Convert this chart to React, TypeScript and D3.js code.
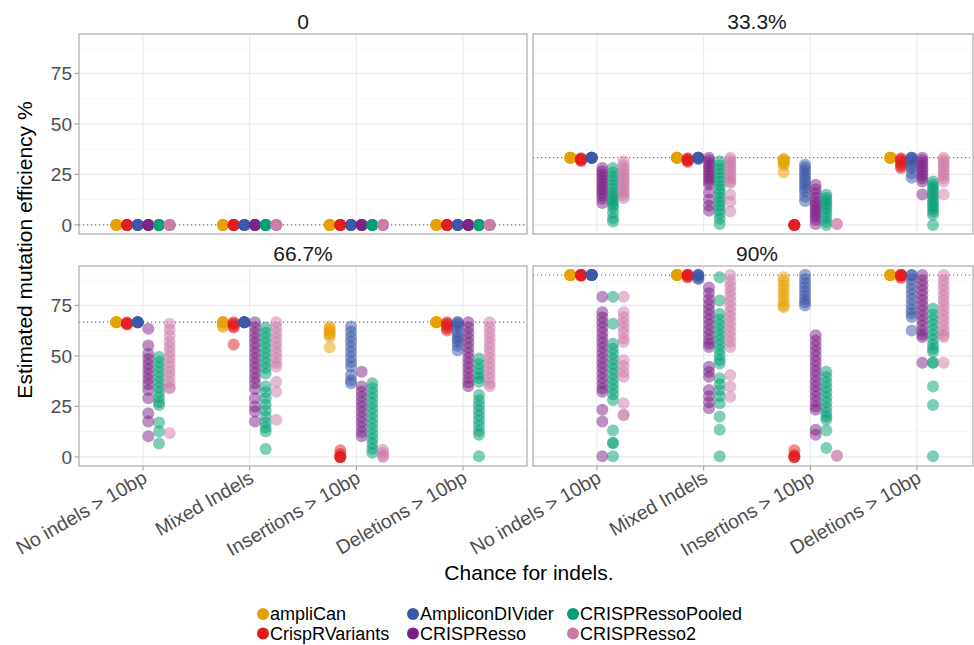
import React from "react";
import * as d3 from "d3";

// Facets (chance of a mutation), x categories and tools
const facets = ["0", "33.3%", "66.7%", "90%"];
const facetTrue = [0, 33.3, 66.7, 90];
const categories = ["No indels > 10bp", "Mixed Indels", "Insertions > 10bp", "Deletions > 10bp"];
const tools = ["ampliCan", "CrispRVariants", "AmpliconDIVider", "CRISPResso", "CRISPRessoPooled", "CRISPResso2"];
const toolColors = ["#E69F00", "#E31A1C", "#3A56A8", "#7B1F86", "#009E73", "#CC79A7"];
const yTicks = [0, 25, 50, 75];
const yMinor = [12.5, 37.5, 62.5, 87.5];

const zeros = [0, 0, 0, 0, 0, 0];

// Estimated mutation efficiency per tool: [facet][category] -> replicate values
const ampliCan: number[][][] = [
  [zeros, zeros, zeros, zeros],
  [
    [33.3, 33.3, 33.3, 33.3, 33.3, 33.3],
    [33.3, 33.3, 33.3, 33.3, 33.3, 33.3],
    [32.8, 32.3, 31.8, 31.2, 30.5, 29.5, 26.0],
    [33.3, 33.3, 33.3, 33.3, 33.3, 33.3],
  ],
  [
    [66.7, 66.7, 66.7, 66.7, 66.7, 66.7],
    [66.7, 66.7, 66.7, 66.7, 65, 64.3],
    [64.6, 63.5, 62.5, 61.5, 60.5, 59.3, 54.1],
    [66.7, 66.7, 66.7, 66.7, 66.7, 66.7],
  ],
  [
    [90, 90, 90, 90, 90, 90],
    [90, 90, 90, 90, 90, 90],
    [88.9, 87, 85, 83, 81, 79, 77, 75, 74.1],
    [90, 90, 90, 90, 90, 90],
  ],
];

const crispRVariants: number[][][] = [
  [zeros, zeros, zeros, zeros],
  [
    [33.0, 32.6, 32.3, 32.0, 31.6, 32.8],
    [33.0, 32.6, 32.3, 31.8, 31.2, 32.0],
    [0, 0, 0, 0, 0],
    [33.0, 32.4, 31.8, 31.0, 30.0, 29.0, 28.2],
  ],
  [
    [66.7, 66.0, 65.8, 65.5, 66.2],
    [66.7, 66.2, 65.5, 64.5, 64.0, 55.7],
    [3.3, 1.5, 0, 0, 0, 0],
    [66.7, 66.0, 65.5, 64.5, 63.5, 62.6],
  ],
  [
    [90, 90, 90, 90, 90, 89.6],
    [90, 90, 90, 90, 89, 88.9],
    [3.3, 1, 0, 0, 0],
    [90, 90, 90, 90, 89, 88.5],
  ],
];

const ampliconDIVider: number[][][] = [
  [zeros, zeros, zeros, zeros],
  [
    [33.3, 33.3, 33.3, 33.3, 33.3, 33.3],
    [33.3, 33.3, 33.3, 33.3, 33.3, 32.5],
    [29.8, 28.5, 27, 25.5, 24, 22.5, 21, 19.5, 18, 16.5, 14, 11.8],
    [33.3, 33.3, 33.3, 32, 30.5, 29, 28, 25.5, 23.3],
  ],
  [
    [66.7, 66.7, 66.7, 66.7, 66.7, 66.7],
    [66.7, 66.7, 66.7, 66.7, 66.7, 66.7],
    [64.6, 62, 59.5, 57, 54.5, 52, 49.5, 47, 44.6, 40.5, 38, 36.4],
    [66.7, 66.7, 65.5, 64, 62, 60, 58.5, 57, 55, 52.8],
  ],
  [
    [90, 90, 90, 90, 90, 90],
    [90, 90, 90, 89, 88.5, 88],
    [90.2, 88, 86, 84, 82, 80, 78, 76.5, 74.9],
    [90, 90, 88, 85.5, 83, 80.5, 78, 75.5, 73, 71, 69.2, 62.6],
  ],
];

const crispresso: number[][][] = [
  [zeros, zeros, zeros, zeros],
  [
    [28.2, 26.5, 25, 23.5, 22, 20.5, 19, 17.5, 16, 14.5, 13, 10.8],
    [33.3, 32, 30.5, 29, 27.5, 26, 24.5, 23, 21.5, 20, 16, 12.5, 9.5, 7],
    [19.9, 17.5, 15.5, 13.5, 11.5, 10, 8.5, 7, 5.5, 4, 2.5, 0.5],
    [33.3, 32, 30.5, 29, 27.5, 26, 24.5, 23, 21.5, 15],
  ],
  [
    [63.4, 55.2, 51.1, 48.5, 46, 43.5, 41, 38.5, 36, 33.1, 29, 21.6, 17.5, 10.2],
    [66.7, 64, 61.5, 59, 56.5, 54, 51.5, 49, 46.5, 44, 41.5, 39, 36.5, 33.6, 29, 25, 22.5, 17.5],
    [42.1, 34.8, 32.3, 29.8, 27.3, 24.8, 22.3, 19.8, 17.3, 14.8, 12.3, 10.2],
    [66.7, 64, 61.5, 59, 56.5, 54, 51.5, 49, 46.5, 44, 41.5, 39, 36.8, 35],
  ],
  [
    [79.3, 71.6, 69, 66.5, 64, 61.5, 59, 56.5, 54, 51.5, 49, 46.5, 44, 41.5, 39, 36.5, 34, 32.3, 23.3, 17.5, 0.3],
    [83.9, 81, 78, 75.5, 73, 70.5, 68, 65.5, 63, 60.5, 58, 56, 54.4, 44.6, 42, 39.7, 33.1, 30, 27, 24.1],
    [60.2, 57.5, 55, 52.5, 50, 47.5, 45, 42.5, 40, 37.5, 35, 32.5, 30, 27.5, 25, 23.3, 13.4, 11],
    [90, 87.5, 85, 82.5, 80, 77.5, 75, 72.5, 70, 67.5, 65, 62.5, 60.5, 59.3, 46.6],
  ],
];

const crispressoPooled: number[][][] = [
  [zeros, zeros, zeros, zeros],
  [
    [28.2, 26, 24, 22, 20, 18, 16, 14.5, 13, 11.5, 10, 8.5, 6, 3.3, 1.7],
    [31.5, 29.5, 27.5, 25.5, 23.5, 21.5, 19.5, 17.5, 15.5, 13.5, 11.5, 9.5, 7.5, 5.5, 3, 0.5],
    [14.9, 13.5, 12, 10.5, 9, 7.5, 5.5, 3.5, 1.5, 0],
    [21.5, 20, 18.5, 17, 15.5, 14, 12.5, 11, 9.5, 8, 6.5, 5, 0],
  ],
  [
    [49.5, 47, 44.5, 42, 39.5, 37, 34.5, 32, 29.5, 27, 25.7, 17, 12.6, 6.6],
    [64, 61.5, 59, 56.5, 54, 51.5, 49, 46.5, 44, 41.3, 34.8, 32, 29, 26, 23, 20, 17, 14.5, 12.6, 3.9],
    [36.4, 34, 31.5, 29, 26.5, 24, 21.5, 19, 16.5, 14, 11.5, 9, 6.5, 4, 2],
    [48.7, 46, 43.5, 41, 39, 37.2, 30.7, 28, 25.5, 23, 20.5, 18, 15.5, 13, 11, 0.3],
  ],
  [
    [79.3, 65.9, 56, 53.5, 51, 48.5, 46, 43.5, 41, 38.5, 36, 33.5, 31, 28.2, 13.1, 6.9, 6.9, 0.3],
    [88.9, 77.4, 70.8, 68, 65.5, 63, 60.5, 58, 55.5, 53, 50.5, 48, 46.2, 38.9, 36, 33, 30, 26.6, 20, 13.4, 0.3],
    [42.1, 39.5, 37, 34.5, 32, 29.5, 27, 24.5, 22, 20, 18.4, 13.1, 4.4],
    [73.3, 70.5, 68, 65.5, 63, 60.5, 58, 55.5, 53.5, 52, 46.6, 46.6, 34.8, 25.7, 0.3],
  ],
];

const crispresso2: number[][][] = [
  [zeros, zeros, zeros, zeros],
  [
    [31.5, 29.5, 28, 26.5, 25, 23.5, 22, 20.5, 19, 17.5, 16, 14.5, 13.2],
    [33.3, 32, 30.5, 29, 27.5, 26, 24.5, 23, 21.5, 20.7, 14.9, 11.6, 6.6],
    [0.5, 0.5],
    [33.3, 32, 30.5, 29, 27.5, 26, 24.5, 23, 21.5, 15],
  ],
  [
    [65.9, 63, 60, 57, 54.5, 52, 49.5, 47, 44.5, 42, 39.5, 37, 34.5, 33.9, 11.8],
    [66.7, 64, 61.5, 59, 56.5, 54, 51.5, 49, 46.5, 44.6, 37.2, 32.3, 18.4],
    [3.6, 2, 0.5, 0],
    [66.7, 64, 61.5, 59, 56.5, 54, 51.5, 49, 46.5, 44, 41.5, 39, 36.5, 35],
  ],
  [
    [79.3, 71.6, 69, 66.5, 64, 61.5, 58.5, 56.9, 47.9, 45, 42, 39.7, 26.6, 20.8, 20.8],
    [90, 87, 84.5, 82, 79.5, 77, 74.5, 72, 69.5, 67, 64.5, 62, 59.5, 57, 54.4, 40.5, 34.8, 29.8],
    [0.7, 0.5],
    [90, 87.5, 85, 82.5, 80, 77.5, 75, 72.5, 70, 67.5, 65, 62.5, 60.5, 59.3, 46.6],
  ],
];

const toolValues = [ampliCan, crispRVariants, ampliconDIVider, crispresso, crispressoPooled, crispresso2];

const W = 974;
const H = 645;
const FONT = "'Liberation Sans', Arial, Helvetica, sans-serif";

// Panel placement (2 x 2 facet grid)
const colX = [79, 533];
const colRight = [527, 973];
const rowY = [34, 266];
const panelW = 448;
const panelH = 200;

const yScaleFor = (row: number) =>
  d3.scaleLinear().domain([-4.5, 94.5]).range([rowY[row] + panelH, rowY[row]]);
const xScaleFor = (col: number) =>
  d3.scaleLinear().domain([0.4, 4.6]).range([colX[col], colX[col] + panelW]);

const dodge = d3.scaleBand<number>().domain(d3.range(tools.length)).range([-0.3, 0.3]);

function Panel({ index }: { index: number }) {
  const col = index % 2;
  const row = Math.floor(index / 2);
  const x = xScaleFor(col);
  const y = yScaleFor(row);
  const left = colX[col];
  const right = colRight[col];
  const top = rowY[row];
  const bottom = top + panelH;
  const clipId = `clip-${index}`;

  return (
    <g>
      <defs>
        <clipPath id={clipId}>
          <rect x={left} y={top} width={right - left} height={panelH} />
        </clipPath>
      </defs>
      <rect x={left} y={top} width={right - left} height={panelH} fill="#fff" />
      <g clipPath={`url(#${clipId})`}>
        {yMinor.map((v) => (
          <line key={`m${v}`} x1={left} x2={right} y1={y(v)} y2={y(v)} stroke="#F3F3F3" strokeWidth={0.7} />
        ))}
        {yTicks.map((v) => (
          <line key={`g${v}`} x1={left} x2={right} y1={y(v)} y2={y(v)} stroke="#EBEBEB" strokeWidth={1.1} />
        ))}
        {categories.map((c, i) => (
          <line key={c} x1={x(i + 1)} x2={x(i + 1)} y1={top} y2={bottom} stroke="#EBEBEB" strokeWidth={1.1} />
        ))}
        <line
          x1={left}
          x2={right}
          y1={y(facetTrue[index])}
          y2={y(facetTrue[index])}
          stroke="#555"
          strokeWidth={1}
          strokeDasharray="1.2,2.8"
        />
        {tools.map((t, ti) =>
          categories.map((c, ci) => {
            const cx = x(ci + 1 + (dodge(ti) as number) + dodge.bandwidth() / 2);
            return toolValues[ti][index][ci].map((v, k) => (
              <circle
                key={`${t}-${ci}-${k}`}
                cx={cx}
                cy={y(v)}
                r={6}
                fill={toolColors[ti]}
                fillOpacity={0.5}
              />
            ));
          })
        )}
      </g>
      <rect x={left} y={top} width={right - left} height={panelH} fill="none" stroke="#A3A3A3" strokeWidth={1.1} />
      <text
        x={(colX[col] + colX[col] + panelW) / 2}
        y={top - 5}
        textAnchor="middle"
        fontSize={21}
        fontFamily={FONT}
        fill="#1A1A1A"
      >
        {facets[index]}
      </text>
      {col === 0 &&
        yTicks.map((v) => (
          <g key={`yt${v}`}>
            <line x1={left - 4.5} x2={left} y1={y(v)} y2={y(v)} stroke="#999" strokeWidth={1} />
            <text
              x={left - 7}
              y={y(v)}
              dy="0.35em"
              textAnchor="end"
              fontSize={19}
              fontFamily={FONT}
              fill="#4D4D4D"
            >
              {v}
            </text>
          </g>
        ))}
      {row === 1 &&
        categories.map((c, i) => (
          <g key={`xt${c}`}>
            <line x1={x(i + 1)} x2={x(i + 1)} y1={bottom} y2={bottom + 4.5} stroke="#999" strokeWidth={1} />
            <text
              transform={`translate(${x(i + 1) - 2},${bottom + 3}) rotate(-30)`}
              dy="0.75em"
              textAnchor="end"
              fontSize={19.5}
              fontFamily={FONT}
              fill="#4D4D4D"
            >
              {c}
            </text>
          </g>
        ))}
    </g>
  );
}

const legendColX = [263, 413, 573];
const legendRowY = [614, 633.5];

export default function App() {
  return (
    <div style={{ position: "absolute", left: 0, top: 0 }}>
      <svg width={W} height={H} style={{ display: "block", background: "#fff" }}>
        <rect width={W} height={H} fill="#fff" />
        {facets.map((f, i) => (
          <Panel key={f} index={i} />
        ))}
        <text
          transform={`translate(32,${(rowY[0] + rowY[1] + panelH) / 2}) rotate(-90)`}
          textAnchor="middle"
          fontSize={21}
          fontFamily={FONT}
          fill="#000"
        >
          Estimated mutation efficiency %
        </text>
        <text x={529} y={580} textAnchor="middle" fontSize={21} fontFamily={FONT} fill="#000">
          Chance for indels.
        </text>
        {tools.map((t, i) => {
          const cx = legendColX[Math.floor(i / 2)];
          const cy = legendRowY[i % 2];
          return (
            <g key={t}>
              <circle cx={cx} cy={cy} r={6} fill={toolColors[i]} />
              <text x={cx + 7} y={cy} dy="0.36em" fontSize={18} fontFamily={FONT} fill="#000">
                {t}
              </text>
            </g>
          );
        })}
      </svg>
    </div>
  );
}
